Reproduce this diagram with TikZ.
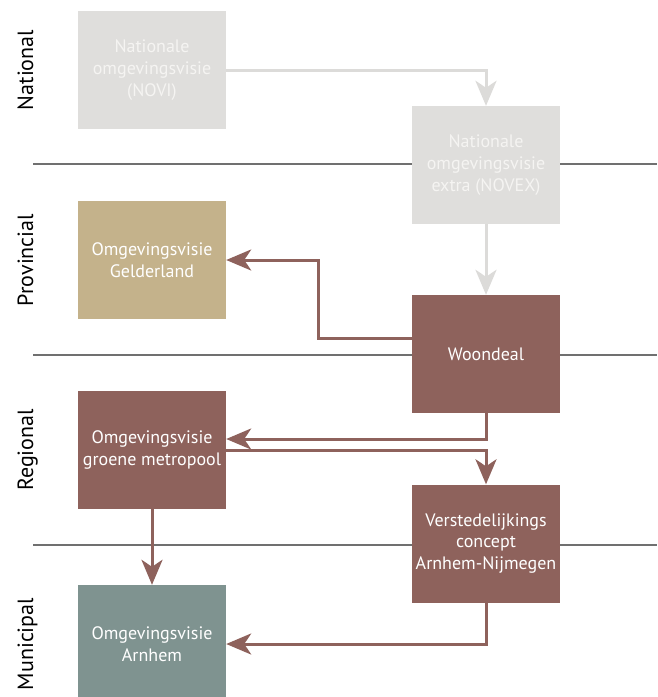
\documentclass[tikz,border=0pt]{standalone}
\usepackage{fontspec}
\setmainfont{PT Sans}
\usetikzlibrary{arrows.meta}
\definecolor{natgray}{HTML}{DFDEDC}
\definecolor{natText}{HTML}{F5F4F2}
\definecolor{lineGray}{HTML}{DCDBD9}
\definecolor{provTan}{HTML}{C4B28B}
\definecolor{regBrown}{HTML}{8E625C}
\definecolor{munTeal}{HTML}{7F9390}
\definecolor{sepGray}{HTML}{707070}
\tikzset{
  box/.style={minimum width=148pt, minimum height=118pt, inner sep=0pt,
    align=center, font=\fontsize{18}{21.6}\selectfont, text=white},
  levellabel/.style={rotate=90, anchor=base, inner sep=0pt,
    font=\fontsize{22}{26}\selectfont, text=black},
  separator/.style={draw=sepGray, line width=1.3pt},
  tipshape/.style={-{Stealth[length=25pt,width=21pt,inset=7pt]}},
  flowgray/.style={draw=lineGray, line width=3pt, tipshape, color=lineGray},
  flowbrown/.style={draw=regBrown, line width=3pt, tipshape, color=regBrown},
}
\begin{document}
\begin{tikzpicture}[x=1pt,y=-1pt]
  \useasboundingbox (0,0) rectangle (657,697);
  \fill[white] (0,0) rectangle (657,697);

  % level separators
  \draw[separator] (33,164) -- (657,164);
  \draw[separator] (33,355) -- (657,355);
  \draw[separator] (33,545) -- (657,545);

  % level labels
  \node[levellabel] (lnat) at (33,70) {National};
  \node[levellabel] (lprov) at (33,260) {Provincial};
  \node[levellabel] (lreg) at (33,450) {Regional};
  \node[levellabel] (lmun) at (33,644) {Municipal};

  % policy documents
  \node[box, fill=natgray, text=natText] (novi) at (152,70)
    {Nationale\\omgevingsvisie\\(NOVI)};
  \node[box, fill=natgray, text=natText] (novex) at (486,165)
    {Nationale\\omgevingsvisie\\extra (NOVEX)};
  \node[box, fill=provTan] (gelder) at (152,260)
    {Omgevingsvisie\\Gelderland};
  \node[box, fill=regBrown] (woon) at (486,354) {Woondeal};
  \node[box, fill=regBrown] (groene) at (152,450)
    {Omgevingsvisie\\groene metropool};
  \node[box, fill=regBrown] (verst) at (486,543.5)
    {Verstedelijkings\\concept\\Arnhem-Nijmegen};
  \node[box, fill=munTeal] (arnhem) at (152,644)
    {Omgevingsvisie\\Arnhem};

  % relations
  \draw[flowgray] (novi.east) -| (novex.north);
  \draw[flowgray] (novex.south) -- (woon.north);
  \draw[flowbrown] ([yshift=16pt]woon.west) -- ++(-93pt,0) |- (gelder.east);
  \draw[flowbrown] (woon.south) |- ([yshift=11pt]groene.east);
  \draw[flowbrown] (groene.east) -| (verst.north);
  \draw[flowbrown] (verst.south) |- (arnhem.east);
  \draw[flowbrown] (groene.south) -- (arnhem.north);
\end{tikzpicture}
\end{document}
